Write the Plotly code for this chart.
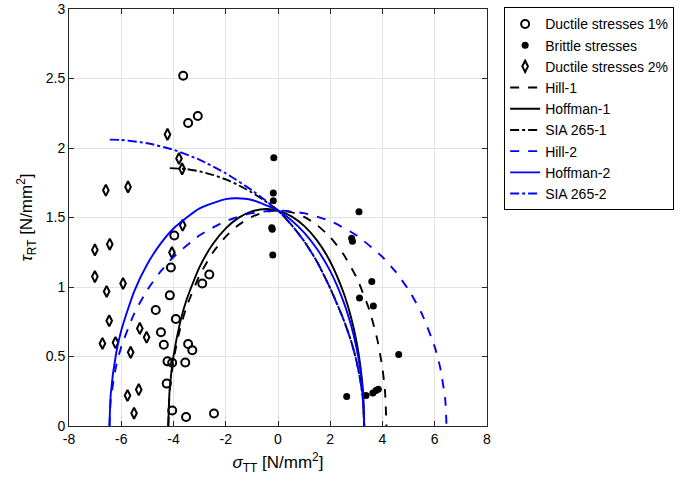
import plotly.graph_objects as go

# measured stresses [N/mm2]
ductile1_sigma = [-3.63, -3.44, -3.07, -3.97, -4.10, -4.14, -4.68, -2.90, -2.63, -3.91, -4.48,
                  -4.37, -3.44, -3.28, -4.23, -4.05, -3.55, -4.26, -4.05, -3.52, -2.45]
ductile1_tau = [2.52, 2.18, 2.23, 1.37, 1.14, 0.94, 0.835, 1.025, 1.09, 0.77, 0.675,
                0.585, 0.59, 0.545, 0.465, 0.455, 0.457, 0.305, 0.112, 0.065, 0.09]

brittle_sigma = [-0.16, -0.18, -0.18, -0.24, -0.22, -0.20, 3.10, 2.82, 2.85, 3.12, 3.59,
                 3.65, 4.62, 2.63, 3.37, 3.63, 3.75, 3.84]
brittle_tau = [1.93, 1.676, 1.62, 1.427, 1.415, 1.23, 1.542, 1.35, 1.33, 0.92, 1.04,
               0.863, 0.515, 0.212, 0.219, 0.238, 0.255, 0.264]

ductile2_sigma = [-4.23, -3.79, -3.67, -6.59, -5.74, -7.01, -6.44, -7.01, -6.56, -5.93, -3.65,
                  -4.06, -6.46, -6.72, -6.22, -5.29, -5.03, -5.64, -5.76, -5.33, -5.51]
ductile2_tau = [2.098, 1.925, 1.85, 1.696, 1.72, 1.267, 1.308, 1.075, 0.968, 1.025, 1.444,
                1.248, 0.757, 0.594, 0.60, 0.702, 0.638, 0.53, 0.219, 0.262, 0.092]

# failure criteria, points
hill1_sigma = [-4.2, -4.15, -4.0, -3.75, -3.5, -3.0, -2.5, -2.0, -1.5, -1.0, -0.5, 0,
               0.5, 1.0, 1.5, 2.0, 2.5, 3.0, 3.5, 3.8, 4.0, 4.1, 4.15]
hill1_tau = [0, 0.239, 0.473, 0.698, 0.857, 1.085, 1.246, 1.363, 1.448, 1.505, 1.539, 1.55,
             1.539, 1.504, 1.445, 1.358, 1.237, 1.071, 0.833, 0.623, 0.413, 0.240, 0]

hoff1_sigma = [-4.2, -4.15, -4.0, -3.75, -3.5, -3.0, -2.5, -2.0, -1.5, -1.0, -0.45, 0,
               0.5, 1.0, 1.5, 2.0, 2.5, 2.8, 3.0, 3.15, 3.25, 3.3]
hoff1_tau = [0, 0.254, 0.503, 0.742, 0.908, 1.145, 1.307, 1.422, 1.499, 1.544, 1.561, 1.55,
             1.510, 1.440, 1.334, 1.182, 0.964, 0.779, 0.612, 0.437, 0.254, 0]

sia1_sigma = [-4.14, -3.5, -3.0, -2.5, -2.0, -1.5, -1.0, -0.5, 0,
              0.5, 1.0, 1.5, 2.0, 2.5, 2.8, 3.0, 3.15, 3.25, 3.3]
sia1_tau = [1.855, 1.848, 1.832, 1.807, 1.774, 1.731, 1.680, 1.619, 1.55,
            1.45, 1.33, 1.18, 0.99, 0.77, 0.61, 0.47, 0.33, 0.19, 0]

hill2_sigma = [-6.45, -6.4, -6.2, -6.0, -5.5, -5.0, -4.5, -4.0, -3.0, -2.0, -1.0, 0,
               1.0, 2.0, 3.0, 4.0, 4.5, 5.0, 5.5, 6.0, 6.2, 6.4, 6.45]
hill2_tau = [0, 0.193, 0.427, 0.569, 0.810, 0.979, 1.110, 1.216, 1.372, 1.474, 1.531, 1.55,
             1.531, 1.474, 1.372, 1.216, 1.110, 0.979, 0.810, 0.569, 0.427, 0.193, 0]

hoff2_sigma = [-6.45, -6.4, -6.2, -6.0, -5.5, -5.0, -4.5, -4.0, -3.0, -2.0, -1.575, -1.0, 0,
               0.5, 1.0, 1.5, 2.0, 2.5, 2.8, 3.0, 3.15, 3.25, 3.3]
hoff2_tau = [0, 0.234, 0.518, 0.687, 0.971, 1.166, 1.310, 1.421, 1.566, 1.632, 1.638, 1.626, 1.55,
             1.482, 1.391, 1.271, 1.114, 0.899, 0.723, 0.566, 0.403, 0.234, 0]

sia2_sigma = [-6.44, -6.0, -5.0, -4.0, -3.0, -2.0, -1.0, -0.5, 0,
              0.5, 1.0, 1.5, 2.0, 2.5, 2.8, 3.0, 3.15, 3.25, 3.3]
sia2_tau = [2.06, 2.058, 2.034, 1.987, 1.915, 1.818, 1.696, 1.626, 1.55,
            1.45, 1.33, 1.18, 0.99, 0.77, 0.61, 0.47, 0.33, 0.19, 0]

BLUE = '#0000ff'
BLACK = '#000000'
FONT = 'Liberation Sans, Arial, sans-serif'

fig = go.Figure()

fig.add_trace(go.Scatter(x=ductile1_sigma, y=ductile1_tau, mode='markers', name='Ductile stresses 1%',
                         marker=dict(symbol='circle-open', size=8, color=BLACK, line=dict(width=2))))
fig.add_trace(go.Scatter(x=brittle_sigma, y=brittle_tau, mode='markers', name='Brittle stresses',
                         marker=dict(symbol='circle', size=7, color=BLACK)))
fig.add_trace(go.Scatter(x=ductile2_sigma, y=ductile2_tau, mode='markers', name='Ductile stresses 2%',
                         marker=dict(symbol='diamond-tall-open', size=8, color=BLACK, line=dict(width=2))))

curves = [
    (hill1_sigma, hill1_tau, 'Hill-1', BLACK, 'dash'),
    (hoff1_sigma, hoff1_tau, 'Hoffman-1', BLACK, 'solid'),
    (sia1_sigma, sia1_tau, 'SIA 265-1', BLACK, 'dashdot'),
    (hill2_sigma, hill2_tau, 'Hill-2', BLUE, 'dash'),
    (hoff2_sigma, hoff2_tau, 'Hoffman-2', BLUE, 'solid'),
    (sia2_sigma, sia2_tau, 'SIA 265-2', BLUE, 'dashdot'),
]
for xs, ys, name, col, dash in curves:
    fig.add_trace(go.Scatter(x=xs, y=ys, mode='lines', name=name,
                             line=dict(color=col, dash=dash, width=1.9, shape='spline', smoothing=0.6)))

axis_style = dict(
    showgrid=True, gridcolor='#e3e3e3', gridwidth=1,
    showline=True, linecolor='#262626', linewidth=1, mirror='ticks',
    ticks='inside', ticklen=5, tickcolor='#262626', automargin=False,
    zeroline=False, tickfont=dict(size=14, color='#000000', family=FONT),
)

fig.update_xaxes(range=[-8, 8], tickvals=[-8, -6, -4, -2, 0, 2, 4, 6, 8],
                 ticktext=['-8', '-6', '-4', '-2', '0', '2', '4', '6', '8'],
                 title=dict(text='<i>σ</i><sub>TT</sub> [N/mm<sup>2</sup>]', font=dict(size=17, family=FONT), standoff=10),
                 **axis_style)
fig.update_yaxes(range=[0, 3], tickvals=[0, 0.5, 1, 1.5, 2, 2.5, 3],
                 ticktext=['0', '0.5', '1', '1.5', '2', '2.5', '3'],
                 title=dict(text='<i>τ</i><sub>RT</sub> [N/mm<sup>2</sup>]', font=dict(size=17, family=FONT), standoff=8),
                 **axis_style)

fig.update_layout(
    width=685, height=494,
    margin=dict(l=69, r=198, t=9, b=68, autoexpand=False),
    plot_bgcolor='white', paper_bgcolor='white',
    font=dict(family=FONT, color='#000000'),
    legend=dict(x=1.041, y=1.004, xanchor='left', yanchor='top',
                bordercolor='#000000', borderwidth=1, bgcolor='white',
                font=dict(size=14, family=FONT), tracegroupgap=0),
    showlegend=True,
)

# drop the default page margin so the figure sits at the window corner
fig.write_html("out.html", config={'displayModeBar': False},
               post_script="document.body.style.margin='0';")
